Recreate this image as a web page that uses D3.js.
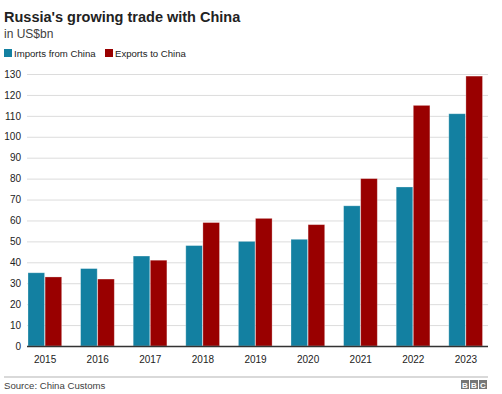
<!DOCTYPE html>
<html>
<head>
<meta charset="utf-8">
<script src="https://cdn.jsdelivr.net/npm/d3@7"></script>
<style>
  body { margin: 0; background: #fff; }
  svg { font-family: "Liberation Sans", Arial, Helvetica, sans-serif; }
</style>
</head>
<body>
<svg id="chart"></svg>
<script>
var years = ['2015', '2016', '2017', '2018', '2019', '2020', '2021', '2022', '2023'];
var imports = [35, 37, 43, 48, 50, 51, 67, 76, 111];
var exports = [33, 32, 41, 59, 61, 58, 80, 115, 129];
var yTicks = [0, 10, 20, 30, 40, 50, 60, 70, 80, 90, 100, 110, 120, 130];
var seriesNames = ['Imports from China', 'Exports to China'];
var seriesColors = ['#1380a1', '#990000'];

var width = 502, height = 394;
var plotLeft = 27, plotRight = 488, plotTop = 74, plotBottom = 346;

var svg = d3.select('#chart')
	.attr('width', width)
	.attr('height', height);

// title block
svg.append('text')
	.attr('x', 4).attr('y', 22)
	.attr('font-size', 14.5).attr('font-weight', 'bold').attr('fill', '#222')
	.text("Russia's growing trade with China");
svg.append('text')
	.attr('x', 4).attr('y', 38)
	.attr('font-size', 12).attr('fill', '#404040')
	.text('in US$bn');

// legend
var legendX = [4, 105];
seriesNames.forEach(function(name, i) {
	svg.append('rect')
		.attr('x', legendX[i]).attr('y', 49)
		.attr('width', 8).attr('height', 8)
		.attr('fill', seriesColors[i]);
	svg.append('text')
		.attr('x', legendX[i] + 10).attr('y', 57)
		.attr('font-size', 9.6).attr('fill', '#222')
		.text(name);
});

var yScale = d3.scaleLinear().domain([0, 130]).range([plotBottom, plotTop]);
var xScale = d3.scaleBand().domain(years).range([28, 483]).paddingInner(0.35).paddingOuter(0);
var xSub = d3.scaleBand().domain([0, 1]).range([0, xScale.bandwidth()]);

// grid
var yAxis = d3.axisLeft(yScale).tickValues(yTicks).tickSize(-(plotRight - plotLeft)).tickPadding(6);
var gy = svg.append('g')
	.attr('transform', 'translate(' + plotLeft + ',0)')
	.call(yAxis);
gy.select('.domain').remove();
gy.selectAll('.tick line').attr('stroke', '#dcdcdc').attr('stroke-width', 1);
gy.selectAll('.tick text')
	.attr('font-size', 10).attr('fill', '#222')
	.attr('font-family', '"Liberation Sans", Arial, sans-serif');

// bars
[imports, exports].forEach(function(vals, s) {
	svg.append('g').selectAll('rect')
		.data(vals)
		.enter()
		.append('rect')
		.attr('x', function(d, i) { return xScale(years[i]) + xSub(s); })
		.attr('y', function(d) { return yScale(d); })
		.attr('width', xSub.bandwidth() - 0.5)
		.attr('height', function(d) { return plotBottom - yScale(d); })
		.attr('fill', seriesColors[s])
		.attr('stroke', 'rgba(255,255,255,0.35)')
		.attr('stroke-width', 0.8);
});

// x axis
var xAxis = d3.axisBottom(xScale).tickSize(0).tickPadding(10);
var gx = svg.append('g')
	.attr('transform', 'translate(0,' + plotBottom + ')')
	.call(xAxis);
gx.select('.domain').remove();
gx.selectAll('.tick text')
	.attr('font-size', 10).attr('fill', '#222')
	.attr('font-family', '"Liberation Sans", Arial, sans-serif');
svg.append('line')
	.attr('x1', plotLeft).attr('x2', plotRight)
	.attr('y1', plotBottom + 0.5).attr('y2', plotBottom + 0.5)
	.attr('stroke', '#333').attr('stroke-width', 1.5);

// footer
svg.append('line')
	.attr('x1', 4).attr('x2', plotRight)
	.attr('y1', 377).attr('y2', 377)
	.attr('stroke', '#cccccc').attr('stroke-width', 1.5);
svg.append('text')
	.attr('x', 4).attr('y', 389)
	.attr('font-size', 9.6).attr('fill', '#404040')
	.text('Source: China Customs');

var logo = svg.append('g').attr('transform', 'translate(461,380)');
['B', 'B', 'C'].forEach(function(ch, i) {
	logo.append('rect')
		.attr('x', i * 9).attr('y', 0)
		.attr('width', 8).attr('height', 9)
		.attr('fill', '#777');
	logo.append('text')
		.attr('x', i * 9 + 4).attr('y', 7.8)
		.attr('text-anchor', 'middle')
		.attr('font-size', 8).attr('font-weight', 'bold').attr('fill', '#fff')
		.text(ch);
});
</script>
</body>
</html>
